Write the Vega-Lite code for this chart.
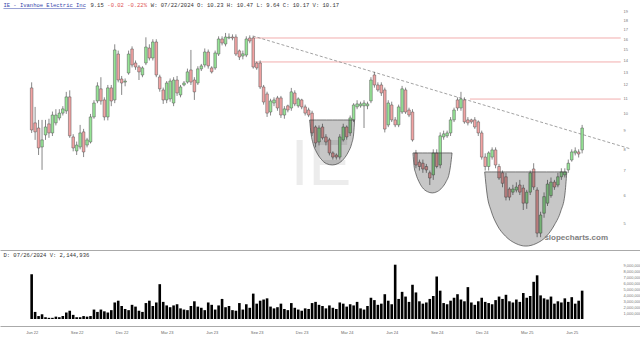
{
"$schema": "https://vega.github.io/schema/vega-lite/v6.json",
"padding": 0,
"background": "white",
"spacing": 0,
"config": {"view": {"stroke": null}, "axis": {"grid": false, "labelFont": "Liberation Sans", "labelOverlap": false, "labelSeparation": 0}, "scale": {"continuousPadding": 0}},
"datasets": {
"candles": [
{"d":"2022-06-27","o":11.78,"h":12.2,"l":8.87,"c":9.04,"v":7600000},
{"d":"2022-07-04","o":9.45,"h":10.45,"l":8.49,"c":8.93,"v":1200000},
{"d":"2022-07-11","o":9.15,"h":9.63,"l":7.72,"c":8.07,"v":500000},
{"d":"2022-07-18","o":8.12,"h":9.63,"l":7.03,"c":8.49,"v":800000},
{"d":"2022-07-25","o":8.76,"h":9.63,"l":8.49,"c":9.21,"v":300000},
{"d":"2022-08-01","o":9.39,"h":9.7,"l":8.6,"c":8.87,"v":200000},
{"d":"2022-08-08","o":8.87,"h":10.15,"l":8.7,"c":9.93,"v":200000},
{"d":"2022-08-15","o":9.45,"h":10.3,"l":9.3,"c":9.93,"v":400000},
{"d":"2022-08-22","o":9.75,"h":10.3,"l":9.6,"c":10.05,"v":300000},
{"d":"2022-08-29","o":10.05,"h":10.5,"l":9.9,"c":10.32,"v":500000},
{"d":"2022-09-05","o":10.19,"h":11.49,"l":10.0,"c":11.13,"v":1100000},
{"d":"2022-09-12","o":11.13,"h":11.6,"l":8.6,"c":8.71,"v":1400000},
{"d":"2022-09-19","o":8.65,"h":8.8,"l":7.9,"c":8.07,"v":700000},
{"d":"2022-09-26","o":7.92,"h":8.4,"l":7.72,"c":8.22,"v":300000},
{"d":"2022-10-03","o":8.12,"h":9.33,"l":8.0,"c":8.87,"v":300000},
{"d":"2022-10-10","o":8.93,"h":9.1,"l":7.62,"c":7.87,"v":500000},
{"d":"2022-10-17","o":8.22,"h":8.6,"l":8.1,"c":8.49,"v":400000},
{"d":"2022-10-24","o":8.38,"h":10.0,"l":8.3,"c":9.81,"v":500000},
{"d":"2022-10-31","o":9.81,"h":10.9,"l":9.7,"c":10.71,"v":1600000},
{"d":"2022-11-07","o":10.85,"h":12.2,"l":10.7,"c":11.93,"v":1200000},
{"d":"2022-11-14","o":11.71,"h":12.6,"l":10.6,"c":10.85,"v":1600000},
{"d":"2022-11-21","o":10.92,"h":11.1,"l":9.6,"c":9.81,"v":1300000},
{"d":"2022-11-28","o":9.81,"h":12.0,"l":9.6,"c":11.78,"v":1100000},
{"d":"2022-12-05","o":11.78,"h":12.0,"l":10.5,"c":10.85,"v":1500000},
{"d":"2022-12-12","o":10.92,"h":15.5,"l":10.7,"c":14.96,"v":2800000},
{"d":"2022-12-19","o":14.58,"h":14.9,"l":12.2,"c":12.38,"v":3100000},
{"d":"2022-12-26","o":12.46,"h":12.7,"l":11.27,"c":12.15,"v":2200000},
{"d":"2023-01-02","o":12.22,"h":12.5,"l":11.9,"c":12.3,"v":1700000},
{"d":"2023-01-09","o":12.94,"h":14.9,"l":12.8,"c":14.58,"v":1500000},
{"d":"2023-01-16","o":15.05,"h":15.3,"l":13.4,"c":13.61,"v":2400000},
{"d":"2023-01-23","o":13.78,"h":14.0,"l":13.2,"c":13.44,"v":2100000},
{"d":"2023-01-30","o":13.44,"h":13.6,"l":12.38,"c":13.03,"v":1400000},
{"d":"2023-02-06","o":12.78,"h":13.5,"l":12.6,"c":13.36,"v":1200000},
{"d":"2023-02-13","o":13.78,"h":16.2,"l":13.6,"c":15.24,"v":2700000},
{"d":"2023-02-20","o":15.14,"h":15.5,"l":14.0,"c":14.22,"v":3100000},
{"d":"2023-02-27","o":14.22,"h":16.0,"l":14.0,"c":15.73,"v":2200000},
{"d":"2023-03-06","o":15.73,"h":16.0,"l":12.6,"c":12.78,"v":2800000},
{"d":"2023-03-13","o":12.62,"h":12.8,"l":11.5,"c":11.71,"v":5900000},
{"d":"2023-03-20","o":11.63,"h":11.8,"l":10.65,"c":10.92,"v":2900000},
{"d":"2023-03-27","o":10.92,"h":12.3,"l":10.7,"c":12.15,"v":2300000},
{"d":"2023-04-03","o":10.99,"h":12.5,"l":10.8,"c":12.3,"v":2000000},
{"d":"2023-04-10","o":10.71,"h":12.6,"l":10.5,"c":12.38,"v":2300000},
{"d":"2023-04-17","o":12.38,"h":12.7,"l":11.2,"c":11.41,"v":2500000},
{"d":"2023-04-24","o":11.27,"h":12.0,"l":11.1,"c":11.85,"v":1800000},
{"d":"2023-05-01","o":12.0,"h":12.3,"l":11.9,"c":12.15,"v":1600000},
{"d":"2023-05-08","o":12.22,"h":13.3,"l":12.1,"c":13.03,"v":1500000},
{"d":"2023-05-15","o":13.19,"h":14.96,"l":12.0,"c":12.22,"v":2200000},
{"d":"2023-05-22","o":12.38,"h":12.6,"l":10.92,"c":11.49,"v":3000000},
{"d":"2023-05-29","o":12.15,"h":13.5,"l":12.0,"c":13.28,"v":2100000},
{"d":"2023-06-05","o":13.28,"h":13.7,"l":13.1,"c":13.53,"v":1900000},
{"d":"2023-06-12","o":13.61,"h":15.1,"l":13.4,"c":14.77,"v":1500000},
{"d":"2023-06-19","o":14.77,"h":15.0,"l":13.3,"c":13.53,"v":2800000},
{"d":"2023-06-26","o":13.36,"h":13.5,"l":12.9,"c":13.03,"v":2400000},
{"d":"2023-07-03","o":13.36,"h":14.9,"l":13.2,"c":14.68,"v":1600000},
{"d":"2023-07-10","o":14.58,"h":16.3,"l":14.4,"c":16.03,"v":2300000},
{"d":"2023-07-17","o":16.03,"h":16.3,"l":15.4,"c":15.63,"v":3400000},
{"d":"2023-07-24","o":15.53,"h":16.65,"l":15.3,"c":16.23,"v":2000000},
{"d":"2023-07-31","o":16.13,"h":16.6,"l":16.0,"c":16.23,"v":2200000},
{"d":"2023-08-07","o":16.23,"h":16.5,"l":15.9,"c":16.13,"v":1500000},
{"d":"2023-08-14","o":16.23,"h":16.5,"l":14.4,"c":14.58,"v":1400000},
{"d":"2023-08-21","o":14.87,"h":15.0,"l":14.04,"c":14.31,"v":2700000},
{"d":"2023-08-28","o":14.4,"h":14.9,"l":14.1,"c":14.6,"v":1600000},
{"d":"2023-09-04","o":14.49,"h":16.3,"l":14.3,"c":16.03,"v":2500000},
{"d":"2023-09-11","o":16.13,"h":16.4,"l":15.6,"c":15.83,"v":1900000},
{"d":"2023-09-18","o":16.13,"h":16.3,"l":13.3,"c":13.44,"v":4300000},
{"d":"2023-09-25","o":13.78,"h":13.9,"l":13.2,"c":13.36,"v":2600000},
{"d":"2023-10-02","o":13.78,"h":14.0,"l":11.7,"c":11.85,"v":3100000},
{"d":"2023-10-09","o":11.85,"h":12.0,"l":10.6,"c":10.78,"v":3300000},
{"d":"2023-10-16","o":11.34,"h":11.5,"l":9.81,"c":10.05,"v":3500000},
{"d":"2023-10-23","o":10.12,"h":11.0,"l":9.9,"c":10.85,"v":2100000},
{"d":"2023-10-30","o":10.71,"h":11.1,"l":10.5,"c":10.92,"v":1800000},
{"d":"2023-11-06","o":11.06,"h":11.2,"l":10.2,"c":10.38,"v":2000000},
{"d":"2023-11-13","o":11.06,"h":11.2,"l":9.75,"c":9.93,"v":2600000},
{"d":"2023-11-20","o":9.93,"h":10.5,"l":9.7,"c":10.32,"v":1700000},
{"d":"2023-11-27","o":10.52,"h":10.6,"l":10.1,"c":10.25,"v":1500000},
{"d":"2023-12-04","o":10.38,"h":11.78,"l":10.2,"c":11.49,"v":2700000},
{"d":"2023-12-11","o":11.41,"h":11.6,"l":10.5,"c":10.65,"v":1900000},
{"d":"2023-12-18","o":10.52,"h":11.1,"l":10.4,"c":10.99,"v":1600000},
{"d":"2023-12-25","o":10.92,"h":11.0,"l":10.3,"c":10.45,"v":1400000},
{"d":"2024-01-01","o":10.45,"h":10.6,"l":9.9,"c":10.05,"v":1800000},
{"d":"2024-01-08","o":10.25,"h":10.4,"l":9.8,"c":9.93,"v":1700000},
{"d":"2024-01-15","o":10.05,"h":10.2,"l":8.7,"c":8.87,"v":2700000},
{"d":"2024-01-22","o":9.21,"h":9.3,"l":8.1,"c":8.33,"v":2900000},
{"d":"2024-01-29","o":8.38,"h":9.3,"l":8.2,"c":9.15,"v":2400000},
{"d":"2024-02-05","o":9.21,"h":9.4,"l":8.5,"c":8.6,"v":2200000},
{"d":"2024-02-12","o":8.65,"h":8.8,"l":8.2,"c":8.38,"v":1800000},
{"d":"2024-02-19","o":8.49,"h":8.6,"l":7.7,"c":7.82,"v":2300000},
{"d":"2024-02-26","o":7.82,"h":7.9,"l":7.5,"c":7.62,"v":1900000},
{"d":"2024-03-04","o":7.72,"h":7.8,"l":7.5,"c":7.62,"v":1700000},
{"d":"2024-03-11","o":7.62,"h":8.8,"l":7.5,"c":8.65,"v":2800000},
{"d":"2024-03-18","o":8.49,"h":9.4,"l":8.4,"c":9.21,"v":2600000},
{"d":"2024-03-25","o":9.21,"h":9.3,"l":8.5,"c":8.65,"v":2100000},
{"d":"2024-04-01","o":8.87,"h":9.9,"l":8.7,"c":9.75,"v":2500000},
{"d":"2024-04-08","o":9.63,"h":10.7,"l":9.5,"c":10.58,"v":2300000},
{"d":"2024-04-15","o":10.45,"h":10.9,"l":10.3,"c":10.65,"v":2900000},
{"d":"2024-04-22","o":10.52,"h":10.8,"l":10.4,"c":10.65,"v":1800000},
{"d":"2024-04-29","o":10.52,"h":10.9,"l":9.15,"c":10.71,"v":1600000},
{"d":"2024-05-06","o":10.52,"h":10.8,"l":10.3,"c":10.65,"v":2200000},
{"d":"2024-05-13","o":10.85,"h":12.6,"l":10.7,"c":12.38,"v":3600000},
{"d":"2024-05-20","o":12.78,"h":13.03,"l":11.8,"c":12.0,"v":3200000},
{"d":"2024-05-27","o":12.0,"h":12.2,"l":11.5,"c":11.63,"v":2400000},
{"d":"2024-06-03","o":12.0,"h":12.2,"l":11.2,"c":11.41,"v":2600000},
{"d":"2024-06-10","o":11.63,"h":11.8,"l":8.9,"c":9.09,"v":4200000},
{"d":"2024-06-17","o":9.33,"h":10.9,"l":9.2,"c":10.71,"v":3100000},
{"d":"2024-06-24","o":10.58,"h":10.8,"l":9.5,"c":9.63,"v":2500000},
{"d":"2024-07-01","o":9.63,"h":9.8,"l":9.2,"c":9.33,"v":9200000},
{"d":"2024-07-08","o":9.33,"h":10.6,"l":9.2,"c":10.45,"v":3400000},
{"d":"2024-07-15","o":10.12,"h":11.93,"l":10.0,"c":11.71,"v":4600000},
{"d":"2024-07-22","o":11.63,"h":11.8,"l":10.0,"c":10.12,"v":3800000},
{"d":"2024-07-29","o":10.25,"h":10.4,"l":9.8,"c":9.93,"v":2900000},
{"d":"2024-08-05","o":10.12,"h":10.3,"l":8.4,"c":8.49,"v":5800000},
{"d":"2024-08-12","o":7.82,"h":7.97,"l":7.1,"c":7.25,"v":4500000},
{"d":"2024-08-19","o":7.38,"h":7.5,"l":7.0,"c":7.18,"v":3000000},
{"d":"2024-08-26","o":7.33,"h":7.5,"l":6.9,"c":7.07,"v":2600000},
{"d":"2024-09-02","o":7.18,"h":7.3,"l":6.9,"c":7.03,"v":2800000},
{"d":"2024-09-09","o":6.9,"h":7.0,"l":6.39,"c":6.68,"v":3400000},
{"d":"2024-09-16","o":6.81,"h":8.0,"l":6.6,"c":7.82,"v":3900000},
{"d":"2024-09-23","o":7.82,"h":8.0,"l":7.1,"c":7.18,"v":7200000},
{"d":"2024-09-30","o":7.25,"h":8.9,"l":7.1,"c":8.71,"v":4800000},
{"d":"2024-10-07","o":8.65,"h":9.0,"l":8.5,"c":8.82,"v":2700000},
{"d":"2024-10-14","o":8.71,"h":9.0,"l":8.6,"c":8.87,"v":2500000},
{"d":"2024-10-21","o":8.87,"h":9.8,"l":8.7,"c":9.63,"v":3100000},
{"d":"2024-10-28","o":9.63,"h":10.4,"l":9.5,"c":10.25,"v":3600000},
{"d":"2024-11-04","o":10.92,"h":11.1,"l":10.2,"c":10.38,"v":4200000},
{"d":"2024-11-11","o":10.38,"h":11.49,"l":10.2,"c":10.99,"v":3300000},
{"d":"2024-11-18","o":10.92,"h":11.1,"l":9.4,"c":9.51,"v":3000000},
{"d":"2024-11-25","o":9.63,"h":9.8,"l":9.3,"c":9.45,"v":5400000},
{"d":"2024-12-02","o":9.63,"h":9.7,"l":9.4,"c":9.51,"v":2800000},
{"d":"2024-12-09","o":9.63,"h":9.8,"l":9.1,"c":9.21,"v":2400000},
{"d":"2024-12-16","o":9.51,"h":9.6,"l":8.7,"c":8.87,"v":3000000},
{"d":"2024-12-23","o":8.87,"h":9.0,"l":7.5,"c":7.62,"v":3600000},
{"d":"2024-12-30","o":7.62,"h":7.8,"l":7.0,"c":7.18,"v":2900000},
{"d":"2025-01-06","o":7.18,"h":7.9,"l":7.0,"c":7.82,"v":2700000},
{"d":"2025-01-13","o":7.62,"h":8.1,"l":7.5,"c":7.97,"v":2500000},
{"d":"2025-01-20","o":7.97,"h":8.1,"l":7.1,"c":7.25,"v":3200000},
{"d":"2025-01-27","o":7.18,"h":7.3,"l":6.6,"c":6.68,"v":3800000},
{"d":"2025-02-03","o":6.9,"h":7.0,"l":6.3,"c":6.46,"v":3400000},
{"d":"2025-02-10","o":6.73,"h":6.9,"l":5.8,"c":5.92,"v":4100000},
{"d":"2025-02-17","o":6.23,"h":6.3,"l":5.8,"c":5.92,"v":3000000},
{"d":"2025-02-24","o":6.11,"h":6.4,"l":6.0,"c":6.23,"v":2800000},
{"d":"2025-03-03","o":6.19,"h":6.5,"l":6.1,"c":6.31,"v":3300000},
{"d":"2025-03-10","o":6.39,"h":6.6,"l":6.0,"c":6.11,"v":2900000},
{"d":"2025-03-17","o":6.27,"h":6.4,"l":5.46,"c":5.7,"v":4400000},
{"d":"2025-03-24","o":5.7,"h":6.2,"l":5.5,"c":6.11,"v":3600000},
{"d":"2025-03-31","o":6.11,"h":7.0,"l":6.0,"c":6.9,"v":3900000},
{"d":"2025-04-07","o":7.07,"h":7.33,"l":6.2,"c":6.31,"v":6300000},
{"d":"2025-04-14","o":6.19,"h":6.3,"l":4.6,"c":4.72,"v":7400000},
{"d":"2025-04-21","o":4.72,"h":5.4,"l":4.6,"c":5.29,"v":4000000},
{"d":"2025-04-28","o":5.35,"h":6.1,"l":5.2,"c":5.94,"v":3500000},
{"d":"2025-05-05","o":5.7,"h":6.6,"l":5.6,"c":6.43,"v":3300000},
{"d":"2025-05-12","o":5.98,"h":6.7,"l":5.9,"c":6.51,"v":3800000},
{"d":"2025-05-19","o":6.51,"h":6.6,"l":6.2,"c":6.31,"v":2600000},
{"d":"2025-05-26","o":6.39,"h":6.9,"l":6.3,"c":6.73,"v":3000000},
{"d":"2025-06-02","o":6.73,"h":7.1,"l":6.6,"c":6.94,"v":2800000},
{"d":"2025-06-09","o":6.81,"h":7.1,"l":6.7,"c":6.94,"v":3500000},
{"d":"2025-06-16","o":7.03,"h":7.5,"l":6.9,"c":7.33,"v":2900000},
{"d":"2025-06-23","o":7.48,"h":8.0,"l":7.4,"c":7.87,"v":3700000},
{"d":"2025-06-30","o":7.82,"h":8.1,"l":7.7,"c":7.92,"v":2600000},
{"d":"2025-07-07","o":7.87,"h":8.0,"l":7.6,"c":7.77,"v":3100000},
{"d":"2025-07-14","o":7.97,"h":9.33,"l":7.8,"c":9.15,"v":4800000}
],
"levels": [
{"start":"2023-09-17","end":"2025-09-30","level":16.13},
{"start":"2023-09-17","end":"2025-09-30","level":13.87},
{"start":"2024-11-29","end":"2025-09-30","level":10.98}
],
"trend": [
{"d":"2023-09-17","p":16.34},
{"d":"2025-10-19","p":8.03}
],
"cups": [
{"cup":1,"d":"2024-01-10","top":9.625,"bot":9.625},
{"cup":1,"d":"2024-01-13","top":9.625,"bot":8.81},
{"cup":1,"d":"2024-01-17","top":9.625,"bot":8.29},
{"cup":1,"d":"2024-01-24","top":9.625,"bot":7.86},
{"cup":1,"d":"2024-02-02","top":9.625,"bot":7.53},
{"cup":1,"d":"2024-02-13","top":9.625,"bot":7.31},
{"cup":1,"d":"2024-02-25","top":9.625,"bot":7.25},
{"cup":1,"d":"2024-03-07","top":9.625,"bot":7.31},
{"cup":1,"d":"2024-03-19","top":9.625,"bot":7.53},
{"cup":1,"d":"2024-03-28","top":9.625,"bot":7.86},
{"cup":1,"d":"2024-04-04","top":9.625,"bot":8.29},
{"cup":1,"d":"2024-04-08","top":9.625,"bot":8.81},
{"cup":1,"d":"2024-04-10","top":9.625,"bot":9.625},
{"cup":2,"d":"2024-08-06","top":7.82,"bot":7.82},
{"cup":2,"d":"2024-08-08","top":7.82,"bot":7.23},
{"cup":2,"d":"2024-08-12","top":7.82,"bot":6.85},
{"cup":2,"d":"2024-08-18","top":7.82,"bot":6.53},
{"cup":2,"d":"2024-08-25","top":7.82,"bot":6.29},
{"cup":2,"d":"2024-09-04","top":7.82,"bot":6.13},
{"cup":2,"d":"2024-09-14","top":7.82,"bot":6.08},
{"cup":2,"d":"2024-09-24","top":7.82,"bot":6.13},
{"cup":2,"d":"2024-10-04","top":7.82,"bot":6.29},
{"cup":2,"d":"2024-10-12","top":7.82,"bot":6.53},
{"cup":2,"d":"2024-10-18","top":7.82,"bot":6.85},
{"cup":2,"d":"2024-10-21","top":7.82,"bot":7.23},
{"cup":2,"d":"2024-10-24","top":7.82,"bot":7.82},
{"cup":3,"d":"2024-12-29","top":6.94,"bot":6.94},
{"cup":3,"d":"2025-01-03","top":6.94,"bot":6.0},
{"cup":3,"d":"2025-01-11","top":6.94,"bot":5.43},
{"cup":3,"d":"2025-01-23","top":6.94,"bot":4.97},
{"cup":3,"d":"2025-02-09","top":6.94,"bot":4.63},
{"cup":3,"d":"2025-03-02","top":6.94,"bot":4.42},
{"cup":3,"d":"2025-03-22","top":6.94,"bot":4.35},
{"cup":3,"d":"2025-04-12","top":6.94,"bot":4.42},
{"cup":3,"d":"2025-05-03","top":6.94,"bot":4.63},
{"cup":3,"d":"2025-05-19","top":6.94,"bot":4.97},
{"cup":3,"d":"2025-06-01","top":6.94,"bot":5.43},
{"cup":3,"d":"2025-06-09","top":6.94,"bot":6.0},
{"cup":3,"d":"2025-06-13","top":6.94,"bot":6.94}
],
"one": [{}]
},
"vconcat": [
{
"width": 640,
"height": 250,
"layer": [
{
"data": {"name": "one"},
"mark": {"type": "text", "font": "Liberation Sans", "fontSize": 64, "color": "#ececec", "align": "center", "baseline": "middle"},
"encoding": {
"x": {"datum": {"year": 2024, "month": 2, "date": 2}, "type": "temporal", "title": null,
"scale": {"domain": [{"year": 2022, "month": 4, "date": 24}, {"year": 2025, "month": 11, "date": 8}], "padding": 0},
"axis": {"labels": false, "ticks": false, "domainColor": "#aaaaaa", "title": null}},
"y": {"datum": 7.2, "type": "quantitative", "title": null,
"scale": {"type": "log", "domain": [4.244, 20.49], "nice": false, "zero": false, "padding": 0},
"axis": {"orient": "right", "offset": -19, "values": [5,6,7,8,9,10,11,12,13,14,15,16,17,18,19], "ticks": false, "domain": false, "labelFontSize": 4, "labelColor": "#777777", "labelPadding": 2, "labelAlign": "left", "labelOverlap": false, "title": null}},
"text": {"value": "IE"}
}
},
{
"data": {"name": "levels"},
"mark": {"type": "rule", "color": "#f2adad", "strokeWidth": 1},
"encoding": {
"x": {"field": "start", "type": "temporal", "title": null},
"x2": {"field": "end"},
"y": {"field": "level", "type": "quantitative", "title": null}
}
},
{
"data": {"name": "trend"},
"mark": {"type": "line", "color": "#8a8a8a", "strokeWidth": 0.8, "strokeDash": [3, 2]},
"encoding": {
"x": {"field": "d", "type": "temporal", "title": null},
"y": {"field": "p", "type": "quantitative", "title": null}
}
},
{
"data": {"name": "candles"},
"mark": {"type": "rule", "color": "#555555", "strokeWidth": 0.7},
"encoding": {
"x": {"field": "d", "type": "temporal", "title": null},
"y": {"field": "l", "type": "quantitative", "title": null},
"y2": {"field": "h"}
}
},
{
"data": {"name": "candles"},
"mark": {"type": "bar", "width": 2.6, "stroke": "#555555", "strokeWidth": 0.5},
"encoding": {
"x": {"field": "d", "type": "temporal", "title": null},
"y": {"field": "o", "type": "quantitative", "title": null},
"y2": {"field": "c"},
"color": {"condition": {"test": "datum.c >= datum.o", "value": "#95e495"}, "value": "#f2a3a3"}
}
},
{
"data": {"name": "cups"},
"mark": {"type": "area", "interpolate": "monotone", "color": "#000000", "fillOpacity": 0.22, "stroke": "#444444", "strokeWidth": 0.7},
"encoding": {
"x": {"field": "d", "type": "temporal", "title": null},
"y": {"field": "bot", "type": "quantitative", "title": null},
"y2": {"field": "top"},
"detail": {"field": "cup"}
}
},
{
"data": {"name": "one"},
"mark": {"type": "text", "font": "Liberation Sans", "fontWeight": "bold", "fontSize": 8, "color": "#808080", "align": "center", "baseline": "middle"},
"encoding": {
"x": {"datum": {"year": 2025, "month": 7, "date": 2}, "type": "temporal"},
"y": {"datum": 4.58, "type": "quantitative"},
"text": {"value": "slopecharts.com"}
}
},
{
"data": {"name": "one"},
"mark": {"type": "text", "font": "Liberation Mono", "fontSize": 5.5, "color": "#3344aa", "align": "left", "baseline": "middle"},
"encoding": {
"x": {"datum": {"year": 2022, "month": 5, "date": 1}, "type": "temporal"},
"y": {"datum": 19.86, "type": "quantitative"},
"text": {"value": "IE - Ivanhoe Electric Inc"}
}
},
{
"data": {"name": "one"},
"mark": {"type": "rule", "color": "#3344aa", "strokeWidth": 0.5},
"encoding": {
"x": {"datum": {"year": 2022, "month": 5, "date": 1}, "type": "temporal"},
"x2": {"datum": {"year": 2022, "month": 10, "date": 14}},
"y": {"datum": 19.42, "type": "quantitative"}
}
},
{
"data": {"name": "one"},
"mark": {"type": "text", "font": "Liberation Mono", "fontSize": 5.5, "color": "#333333", "align": "left", "baseline": "middle"},
"encoding": {
"x": {"datum": {"year": 2022, "month": 10, "date": 24}, "type": "temporal"},
"y": {"datum": 19.86, "type": "quantitative"},
"text": {"value": "9.15"}
}
},
{
"data": {"name": "one"},
"mark": {"type": "text", "font": "Liberation Mono", "fontSize": 5.5, "color": "#e05555", "align": "left", "baseline": "middle"},
"encoding": {
"x": {"datum": {"year": 2022, "month": 11, "date": 27}, "type": "temporal"},
"y": {"datum": 19.86, "type": "quantitative"},
"text": {"value": "-0.02 -0.22%"}
}
},
{
"data": {"name": "one"},
"mark": {"type": "text", "font": "Liberation Mono", "fontSize": 5.5, "color": "#333333", "align": "left", "baseline": "middle"},
"encoding": {
"x": {"datum": {"year": 2023, "month": 2, "date": 23}, "type": "temporal"},
"y": {"datum": 19.86, "type": "quantitative"},
"text": {"value": "W: 07/22/2024 O: 10.23 H: 10.47 L: 9.64 C: 10.17 V: 10.17"}
}
}
]
},
{
"width": 640,
"height": 69,
"layer": [
{
"data": {"name": "candles"},
"mark": {"type": "bar", "width": 2.6, "color": "#000000"},
"encoding": {
"x": {"field": "d", "type": "temporal", "title": null,
"scale": {"domain": [{"year": 2022, "month": 4, "date": 24}, {"year": 2025, "month": 11, "date": 8}], "padding": 0},
"axis": {"values": [
{"year": 2022, "month": 6, "date": 27}, {"year": 2022, "month": 9, "date": 26}, {"year": 2022, "month": 12, "date": 26},
{"year": 2023, "month": 3, "date": 27}, {"year": 2023, "month": 6, "date": 26}, {"year": 2023, "month": 9, "date": 25},
{"year": 2023, "month": 12, "date": 25}, {"year": 2024, "month": 3, "date": 25}, {"year": 2024, "month": 6, "date": 24},
{"year": 2024, "month": 9, "date": 23}, {"year": 2024, "month": 12, "date": 23}, {"year": 2025, "month": 3, "date": 24},
{"year": 2025, "month": 6, "date": 23}],
"format": "%b %y", "ticks": false, "offset": 7, "domainColor": "#aaaaaa", "labelFontSize": 4, "labelColor": "#666666", "labelPadding": 4, "labelOverlap": false, "title": null}},
"y": {"field": "v", "type": "quantitative", "title": null,
"scale": {"domain": [0, 11690000], "nice": false, "padding": 0},
"axis": {"orient": "right", "offset": -19, "values": [1000000,2000000,3000000,4000000,5000000,6000000,7000000,8000000,9000000], "format": ",d", "ticks": false, "domain": false, "labelFontSize": 4, "labelColor": "#777777", "labelPadding": 2, "labelAlign": "left", "labelOverlap": false, "labelSeparation": 0, "labelFlush": false, "title": null}}
}
},
{
"data": {"name": "one"},
"mark": {"type": "text", "font": "Liberation Mono", "fontSize": 5.5, "color": "#333333", "align": "left", "baseline": "middle"},
"encoding": {
"x": {"datum": {"year": 2022, "month": 5, "date": 1}, "type": "temporal"},
"y": {"datum": 10850000, "type": "quantitative",
"axis": {"orient": "right", "offset": -19, "values": [1000000,2000000,3000000,4000000,5000000,6000000,7000000,8000000,9000000], "format": ",d", "ticks": false, "domain": false, "labelFontSize": 4, "labelColor": "#777777", "labelPadding": 2, "labelAlign": "left", "labelOverlap": false, "labelSeparation": 0, "labelFlush": false, "title": null}},
"text": {"value": "D: 07/26/2024 V: 2,144,936"}
}
}
]
}
]
}
